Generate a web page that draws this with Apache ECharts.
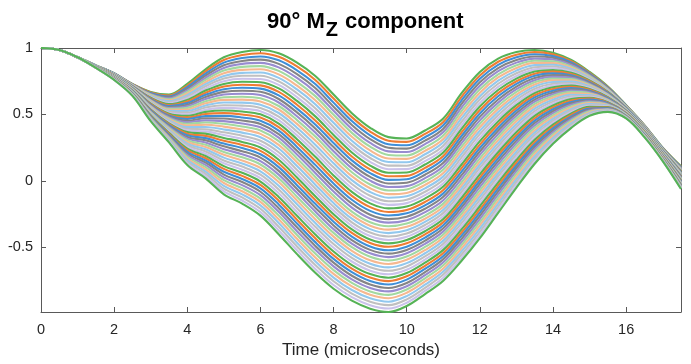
<!DOCTYPE html>
<html>
<head>
<meta charset="utf-8">
<script src="https://cdn.jsdelivr.net/npm/echarts@6/dist/echarts.min.js"></script>
<style>html,body{margin:0;padding:0;background:#fff;}#c{width:691px;height:364px;}</style>
</head>
<body>
<div id="c"></div>
<script>
// time axis (microseconds)
const time = [0,0.5,1,1.5,2,2.5,3,3.5,4,4.5,5,5.5,6,6.5,7,7.5,8,8.5,9,9.5,10,10.5,11,11.5,12,12.5,13,13.5,14,14.5,15,15.5,16,16.5,17,17.5];
// read curves: uppermost line, middle line, lowest line
const topCurve = [1.00,0.985,0.93,0.87,0.81,0.73,0.67,0.65,0.73,0.84,0.93,0.97,0.985,0.96,0.89,0.79,0.65,0.51,0.40,0.33,0.32,0.38,0.47,0.66,0.82,0.92,0.97,0.985,0.965,0.91,0.82,0.71,0.57,0.42,0.25,0.11];
const midCurve = [1.00,0.985,0.93,0.86,0.785,0.69,0.56,0.47,0.43,0.44,0.43,0.41,0.38,0.30,0.17,0.03,-0.11,-0.23,-0.31,-0.34,-0.32,-0.26,-0.17,-0.01,0.17,0.33,0.47,0.58,0.64,0.67,0.66,0.61,0.52,0.38,0.20,0.02];
const bottomCurve = [1.00,0.985,0.93,0.85,0.76,0.64,0.45,0.29,0.12,0.02,-0.10,-0.17,-0.26,-0.40,-0.55,-0.69,-0.81,-0.90,-0.96,-0.985,-0.94,-0.85,-0.75,-0.60,-0.43,-0.24,-0.05,0.13,0.28,0.40,0.49,0.52,0.47,0.33,0.15,-0.06];
const lineCount = 51;
const xTicks = [0,2,4,6,8,10,12,14,16];
const yTicks = [-0.5,0,0.5,1];
const palette = ['#56b356','#ef7d34','#3f8fd8','#858585','#988cd0','#a2d9a0','#f6b88f','#92c8ee','#c0c0c0','#cac2ea'];

const series = [];
for (let k = 0; k < lineCount; k++) {
  const f = k / (lineCount - 1);
  const data = time.map((t, j) => {
    let v;
    if (f <= 0.5) { const g = f * 2; v = topCurve[j] * (1 - g) + midCurve[j] * g; }
    else { const g = (f - 0.5) * 2; v = midCurve[j] * (1 - g) + bottomCurve[j] * g; }
    return [t, v];
  });
  series.push({
    type: 'line', data: data, showSymbol: false, smooth: 0.35, silent: true,
    lineStyle: { width: 2.1, color: palette[k % palette.length] },
    z: 2
  });
}

const chart = echarts.init(document.getElementById('c'), null, { renderer: 'canvas' });
const axisColor = '#595959';
const FF = 'Liberation Sans, Arial, Helvetica, sans-serif';
const labelFont = { fontFamily: FF, fontSize: 14.5, color: '#262626' };
function boxAxis(extra) {
  return Object.assign({
    axisLine: { show: true, onZero: false, lineStyle: { color: axisColor, width: 1 } },
    splitLine: { show: false }
  }, extra);
}
chart.setOption({
  animation: false,
  backgroundColor: '#fff',
  title: {
    text: '{a|90° M}{s|Z}{a| component}',
    left: 262, top: 6,
    textStyle: {
      rich: {
        a: { fontFamily: FF, fontSize: 22, fontWeight: 'bold', color: '#000', lineHeight: 26, verticalAlign: 'top' },
        s: { fontFamily: FF, fontSize: 20, fontWeight: 'bold', color: '#000', lineHeight: 26, padding: [9, 1, 0, 1], verticalAlign: 'top' }
      }
    }
  },
  grid: { left: 41, right: 10, top: 48, bottom: 49, containLabel: false },
  xAxis: [boxAxis({
    type: 'value', min: 0, max: 17.5, position: 'bottom',
    name: 'Time (microseconds)', nameLocation: 'middle', nameGap: 30,
    nameTextStyle: { fontFamily: FF, fontSize: 17, color: '#262626' },
    axisTick: { show: true, inside: true, length: 5, customValues: xTicks, lineStyle: { color: axisColor } },
    axisLabel: Object.assign({ customValues: xTicks, margin: 10 }, labelFont)
  }), boxAxis({
    type: 'value', min: 0, max: 17.5, position: 'top',
    axisTick: { show: true, inside: true, length: 5, customValues: xTicks, lineStyle: { color: axisColor } },
    axisLabel: { show: false }
  })],
  yAxis: [boxAxis({
    type: 'value', min: -0.985, max: 1, position: 'left',
    axisTick: { show: true, inside: true, length: 5, customValues: yTicks, lineStyle: { color: axisColor } },
    axisLabel: Object.assign({ customValues: yTicks, margin: 8, formatter: v => String(v) }, labelFont)
  }), boxAxis({
    type: 'value', min: -0.985, max: 1, position: 'right',
    axisTick: { show: true, inside: true, length: 5, customValues: yTicks, lineStyle: { color: axisColor } },
    axisLabel: { show: false }
  })],
  series: series
});
</script>
</body>
</html>
